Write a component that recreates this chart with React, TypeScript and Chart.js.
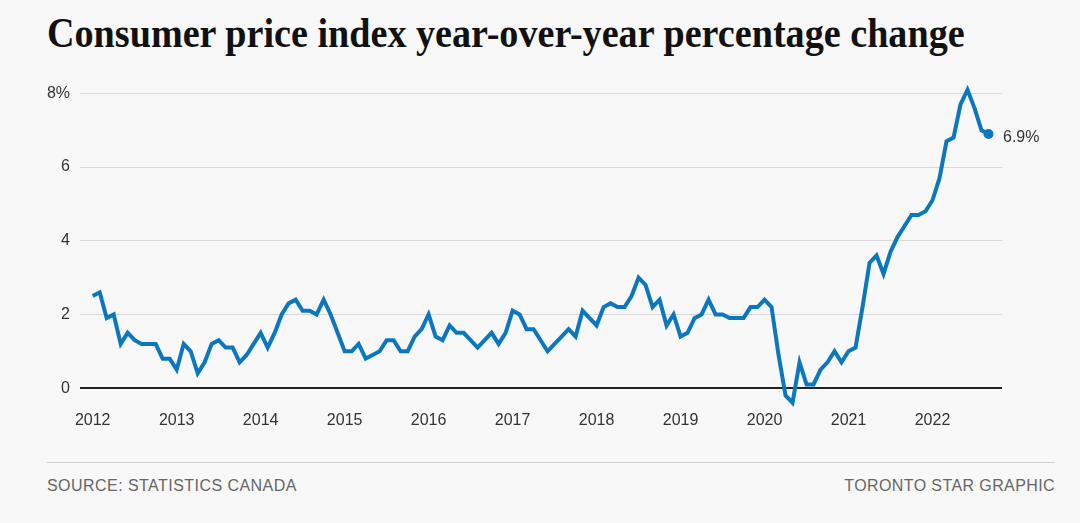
import React, { useEffect, useRef } from "react";
import { Chart, registerables } from "chart.js";

Chart.register(...registerables);

const TITLE = "Consumer price index year-over-year percentage change";
const SOURCE = "SOURCE: STATISTICS CANADA";
const CREDIT = "TORONTO STAR GRAPHIC";

const years = [2012, 2013, 2014, 2015, 2016, 2017, 2018, 2019, 2020, 2021, 2022];

const cpi2012 = [2.5, 2.6, 1.9, 2.0, 1.2, 1.5, 1.3, 1.2, 1.2, 1.2, 0.8, 0.8];
const cpi2013 = [0.5, 1.2, 1.0, 0.4, 0.7, 1.2, 1.3, 1.1, 1.1, 0.7, 0.9, 1.2];
const cpi2014 = [1.5, 1.1, 1.5, 2.0, 2.3, 2.4, 2.1, 2.1, 2.0, 2.4, 2.0, 1.5];
const cpi2015 = [1.0, 1.0, 1.2, 0.8, 0.9, 1.0, 1.3, 1.3, 1.0, 1.0, 1.4, 1.6];
const cpi2016 = [2.0, 1.4, 1.3, 1.7, 1.5, 1.5, 1.3, 1.1, 1.3, 1.5, 1.2, 1.5];
const cpi2017 = [2.1, 2.0, 1.6, 1.6, 1.3, 1.0, 1.2, 1.4, 1.6, 1.4, 2.1, 1.9];
const cpi2018 = [1.7, 2.2, 2.3, 2.2, 2.2, 2.5, 3.0, 2.8, 2.2, 2.4, 1.7, 2.0];
const cpi2019 = [1.4, 1.5, 1.9, 2.0, 2.4, 2.0, 2.0, 1.9, 1.9, 1.9, 2.2, 2.2];
const cpi2020 = [2.4, 2.2, 0.9, -0.2, -0.4, 0.7, 0.1, 0.1, 0.5, 0.7, 1.0, 0.7];
const cpi2021 = [1.0, 1.1, 2.2, 3.4, 3.6, 3.1, 3.7, 4.1, 4.4, 4.7, 4.7, 4.8];
const cpi2022 = [5.1, 5.7, 6.7, 6.8, 7.7, 8.1, 7.6, 7.0, 6.9];

const yTicks = [0, 2, 4, 6, 8];

const allValues = [
  ...cpi2012, ...cpi2013, ...cpi2014, ...cpi2015, ...cpi2016, ...cpi2017,
  ...cpi2018, ...cpi2019, ...cpi2020, ...cpi2021, ...cpi2022,
];

const LINE_COLOR = "#0b77bd";
const FONT = "'Liberation Sans', Arial, sans-serif";

export default function App() {
  const canvasRef = useRef<HTMLCanvasElement | null>(null);

  useEffect(() => {
    const canvas = canvasRef.current;
    if (!canvas) return;
    const points = allValues.map((v, i) => ({ x: i, y: v }));
    const lastIndex = points.length - 1;

    const endLabel = {
      id: "endLabel",
      afterDatasetsDraw(chart: any) {
        const meta = chart.getDatasetMeta(0);
        const el = meta.data[lastIndex];
        if (!el) return;
        const ctx = chart.ctx;
        ctx.save();
        ctx.font = `16px ${FONT}`;
        ctx.fillStyle = "#333333";
        ctx.textAlign = "left";
        ctx.textBaseline = "middle";
        ctx.fillText(`${allValues[lastIndex].toFixed(1)}%`, el.x + 14.5, el.y + 3.5);
        ctx.restore();
      },
    };

    const chart = new Chart(canvas, {
      type: "line",
      data: {
        datasets: [
          {
            data: points,
            borderColor: LINE_COLOR,
            backgroundColor: LINE_COLOR,
            borderWidth: 4,
            tension: 0,
            pointRadius: (ctx: any) => (ctx.dataIndex === lastIndex ? 5 : 0),
            pointHoverRadius: 0,
            pointBorderWidth: 0,
            pointBackgroundColor: LINE_COLOR,
            clip: false as any,
          },
        ],
      },
      options: {
        animation: false,
        responsive: true,
        maintainAspectRatio: false,
        layout: { padding: { top: 3.5, right: 78, left: 0, bottom: 0 } },
        plugins: {
          legend: { display: false },
          tooltip: { enabled: false },
        },
        events: [],
        scales: {
          x: {
            type: "linear",
            min: -1.886,
            max: 129.93,
            grid: { display: false, drawTicks: false },
            border: { display: false },
            afterBuildTicks: (scale: any) => {
              scale.ticks = years.map((_, i) => ({ value: i * 12 }));
            },
            afterFit: (scale: any) => {
              scale.height = 29.8;
              scale.paddingLeft = 0;
              scale.paddingRight = 0;
            },
            ticks: {
              autoSkip: false,
              maxRotation: 0,
              padding: 1,
              color: "#333333",
              font: { family: FONT, size: 16 },
              callback: (v: any) => String(years[Math.round(Number(v) / 12)]),
            },
          },
          y: {
            type: "linear",
            min: -0.6,
            max: 8.5,
            afterBuildTicks: (scale: any) => {
              scale.ticks = yTicks.map((v) => ({ value: v }));
            },
            afterFit: (scale: any) => {
              scale.width = 79.5;
              scale.paddingTop = 0;
              scale.paddingBottom = 0;
            },
            grid: {
              drawTicks: false,
              color: (ctx: any) => (ctx.tick && ctx.tick.value === 0 ? "#222222" : "#d9d9d9"),
              lineWidth: (ctx: any) => (ctx.tick && ctx.tick.value === 0 ? 2 : 1),
            },
            border: { display: false },
            ticks: {
              padding: 9.5,
              color: "#333333",
              font: { family: FONT, size: 16 },
              callback: (v: any) => (Number(v) === yTicks[yTicks.length - 1] ? `${v}%` : String(v)),
            },
          },
        },
      } as any,
      plugins: [endLabel],
    });
    return () => chart.destroy();
  }, []);

  return (
    <div
      style={{
        position: "fixed",
        left: 0,
        top: 0,
        width: 1080,
        height: 523,
        background: "#f8f8f8",
        overflow: "hidden",
      }}
    >
      <div
        style={{
          position: "absolute",
          left: 47,
          top: 10.5,
          fontFamily: "'Liberation Serif', 'Times New Roman', serif",
          fontWeight: 700,
          fontSize: 43,
          lineHeight: 1,
          whiteSpace: "nowrap",
          color: "#111111",
          transform: "scaleX(0.887)",
          transformOrigin: "left top",
        }}
      >
        {TITLE}
      </div>
      <div style={{ position: "absolute", left: 0, top: 70, width: 1080, height: 370 }}>
        <canvas ref={canvasRef} />
      </div>
      <div
        style={{
          position: "absolute",
          left: 47,
          top: 462,
          width: 1008,
          height: 1,
          background: "#cfcfcf",
        }}
      />
      <div
        style={{
          position: "absolute",
          left: 47,
          top: 477.5,
          fontFamily: FONT,
          fontSize: 16,
          lineHeight: 1,
          letterSpacing: 0.45,
          color: "#666666",
          whiteSpace: "nowrap",
        }}
      >
        {SOURCE}
      </div>
      <div
        style={{
          position: "absolute",
          right: 25,
          top: 477.5,
          fontFamily: FONT,
          fontSize: 16,
          lineHeight: 1,
          letterSpacing: 0.4,
          color: "#666666",
          whiteSpace: "nowrap",
        }}
      >
        {CREDIT}
      </div>
    </div>
  );
}
